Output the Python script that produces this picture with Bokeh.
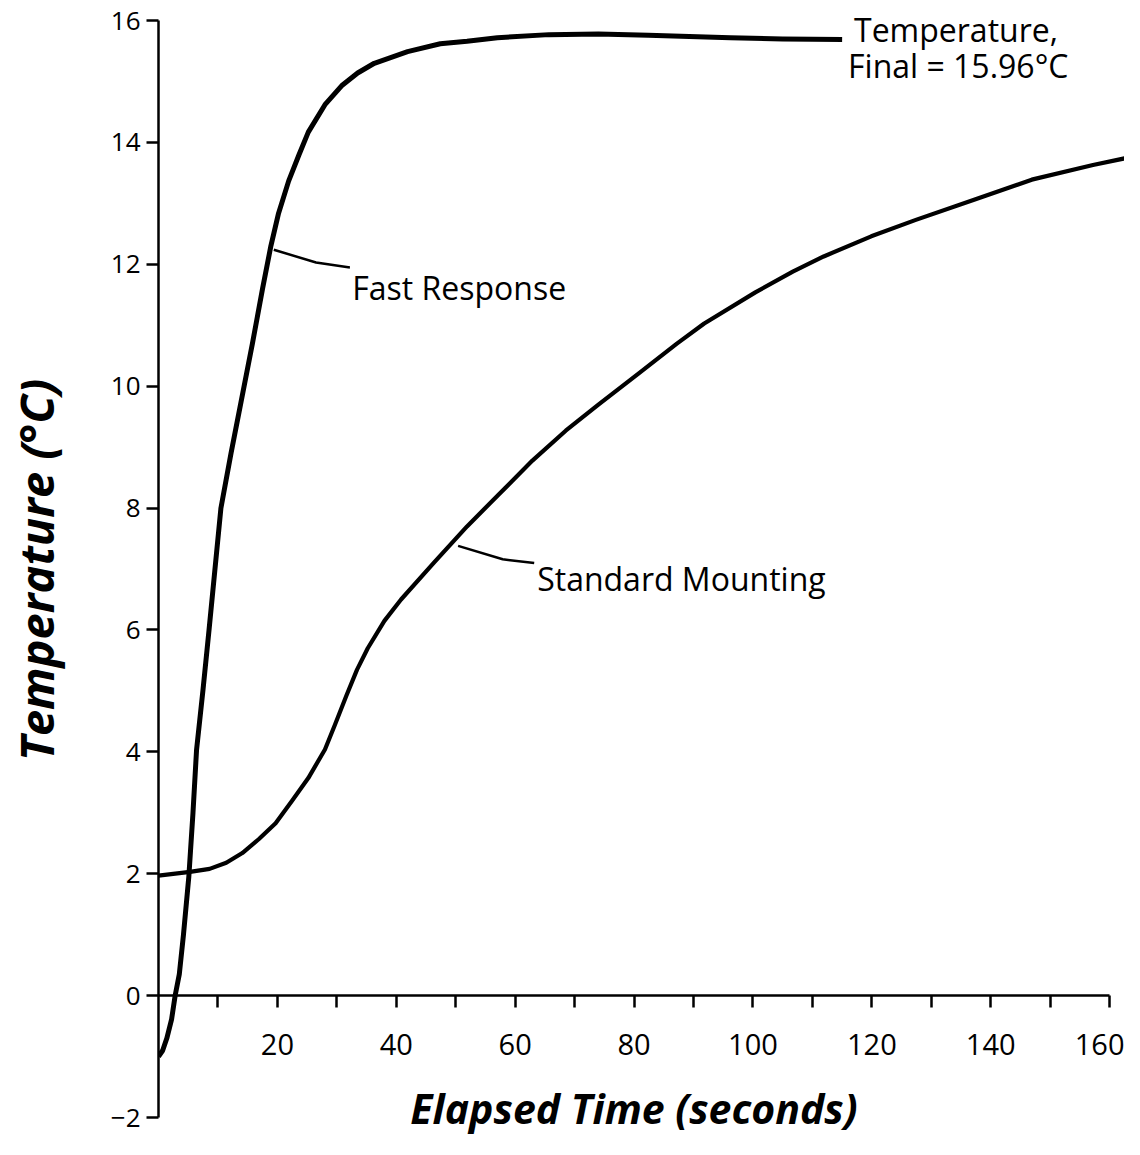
from bokeh.plotting import figure
from bokeh.models import FixedTicker, Label
from bokeh.embed import file_html
from bokeh.resources import INLINE

# ---- data ----
fast_t = [0, 0.7, 1.4, 2.2, 2.8, 3.5, 4.2, 5.1, 5.8, 6.4, 7.5, 8.5, 10.5, 12.2, 13.8,
          15.8, 17.5, 18.9, 20.2, 21.9, 23.6, 25.2, 28.0, 30.8, 33.5, 36.3, 41.9,
          47.4, 51.9, 57.0, 65.7, 74.0, 82.4, 96.2, 105.0, 115.0]
fast_y = [-1.0, -0.9, -0.7, -0.39, 0.0, 0.35, 1.0, 1.95, 3.0, 4.03, 5.03, 6.0, 8.0, 8.9, 9.7,
          10.7, 11.6, 12.3, 12.84, 13.37, 13.79, 14.17, 14.62, 14.93, 15.14, 15.30, 15.49,
          15.62, 15.66, 15.72, 15.77, 15.78, 15.76, 15.72, 15.70, 15.69]

std_t = [0, 5.3, 8.6, 11.4, 14.1, 16.9, 19.7, 22.5, 25.2, 28.0, 29.7, 31.6, 33.4, 35.2,
         38.0, 40.8, 46.3, 51.9, 57.4, 62.9, 68.5, 74.0, 80.9, 87.2, 91.8, 100.4, 106.7,
         111.9, 119.9, 127.4, 137.2, 146.9, 157.2, 164.0]
std_y = [1.97, 2.03, 2.08, 2.18, 2.34, 2.57, 2.83, 3.2, 3.57, 4.04, 4.45, 4.92, 5.35, 5.7,
         6.15, 6.5, 7.10, 7.70, 8.24, 8.78, 9.27, 9.70, 10.22, 10.70, 11.03, 11.54, 11.88,
         12.13, 12.46, 12.73, 13.06, 13.39, 13.63, 13.77]

x_ticks = [20, 40, 60, 80, 100, 120, 140, 160]
x_minor = [10, 30, 50, 70, 90, 110, 130, 150]
y_ticks = [-2, 0, 2, 4, 6, 8, 10, 12, 14, 16]

fast_leader_t = [19.4, 26.5, 32.2]
fast_leader_y = [12.24, 12.03, 11.95]
std_leader_t = [50.4, 57.9, 63.2]
std_leader_y = [7.38, 7.16, 7.10]

FONT = "Open Sans"

p = figure(width=1124, height=1139, x_range=(0, 162.5), y_range=(-2.361, 16.33),
           output_backend="svg", toolbar_location=None,
           min_border_left=147, min_border_right=0, min_border_top=0, min_border_bottom=0)
p.grid.visible = False
p.outline_line_color = None
p.background_fill_color = "white"
p.border_fill_color = "white"

# x axis placed on y = 0
xa = p.xaxis[0]
xa.fixed_location = 0
xa.bounds = (0, 160)
xa.ticker = FixedTicker(ticks=x_ticks, minor_ticks=x_minor)
xa.axis_line_width = 2.5
xa.major_tick_in = 0
xa.major_tick_out = 12
xa.minor_tick_in = 0
xa.minor_tick_out = 12
xa.major_tick_line_width = 2.5
xa.minor_tick_line_width = 2.5
xa.minor_tick_line_color = "black"
xa.major_label_text_font = FONT
xa.major_label_text_font_size = "29px"
xa.major_label_text_color = "black"
xa.major_label_standoff = 26
xa.axis_label = "Elapsed Time (seconds)"
xa.axis_label_text_font = FONT
xa.axis_label_text_font_style = "bold italic"
xa.axis_label_text_font_size = "41px"
xa.axis_label_text_color = "black"
xa.axis_label_standoff = 22

ya = p.yaxis[0]
ya.bounds = (-2, 16)
ya.ticker = FixedTicker(ticks=y_ticks, minor_ticks=[])
ya.axis_line_width = 2.5
ya.major_tick_in = 0
ya.major_tick_out = 12
ya.minor_tick_out = 0
ya.minor_tick_in = 0
ya.major_tick_line_width = 2.5
ya.major_label_text_font = FONT
ya.major_label_text_font_size = "26px"
ya.major_label_text_color = "black"
ya.major_label_standoff = 6
ya.axis_label = "Temperature (°C)"
ya.axis_label_text_font = FONT
ya.axis_label_text_font_style = "bold italic"
ya.axis_label_text_font_size = "47px"
ya.axis_label_text_color = "black"
ya.axis_label_standoff = 40

# curves
p.line(fast_t, fast_y, line_color="black", line_width=5, line_join="round")
p.line(std_t, std_y, line_color="black", line_width=4.2, line_join="round")

# leaders
p.line(fast_leader_t, fast_leader_y, line_color="black", line_width=2.5)
p.line(std_leader_t, std_leader_y, line_color="black", line_width=2.5)

# annotations
for x, y, txt in [(32.6, 11.62, "Fast Response"),
                  (63.7, 6.85, "Standard Mounting"),
                  (117.0, 15.85, "Temperature,"),
                  (116.0, 15.26, "Final = 15.96°C")]:
    p.add_layout(Label(x=x, y=y, text=txt, text_font=FONT, text_font_size="32px",
                       text_color="black", text_baseline="alphabetic"))

open("out.html", "w").write(file_html(p, INLINE))
